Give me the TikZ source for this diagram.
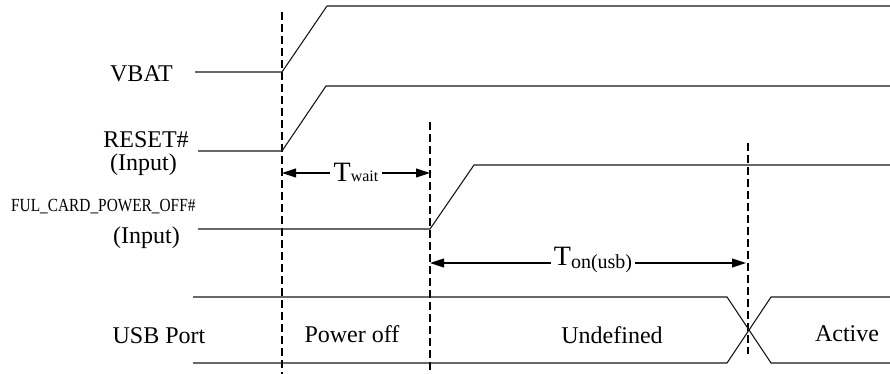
\documentclass[tikz,border=0pt]{standalone}
\usepackage{fontspec}
\setmainfont{Liberation Serif}
\usetikzlibrary{arrows.meta}
\begin{document}
\begin{tikzpicture}[x=1pt,y=-1pt,
  sig/.style={line width=1.1pt, black!90},
  guide/.style={line width=1.3pt, dash pattern=on 8pt off 4pt},
  dimline/.style={line width=1.1pt, -{Triangle[length=14pt,width=9pt]}},
  lbl/.style={font=\fontsize{24}{26}\selectfont, inner sep=0pt, anchor=base},
  small/.style={font=\fontsize{18.5}{20}\selectfont, inner sep=0pt, anchor=base west},
  tlbl/.style={fill=white, inner xsep=3pt, inner ysep=0pt, anchor=base}]
\useasboundingbox (0,0) rectangle (890,374);

% timing guides
\coordinate (g1t) at (282,12);  \coordinate (g1b) at (282,374);
\coordinate (g2t) at (430,122); \coordinate (g2b) at (430,374);
\coordinate (g3t) at (748,143); \coordinate (g3b) at (748,354);
\draw[guide] (g1t) -- (g1b);
\draw[guide] (g2t) -- (g2b);
\draw[guide] (g3t) -- (g3b);

% VBAT
\coordinate (v0) at (195,72);  \coordinate (v1) at (282,72);
\coordinate (v2) at (327,6);   \coordinate (v3) at (890,6);
\draw[sig] (v0) -- (v1) -- (v2) -- (v3);
\node[lbl] (vbat) at (141.5,82) {VBAT};

% RESET#
\coordinate (r0) at (198,151); \coordinate (r1) at (282,151);
\coordinate (r2) at (326,86);  \coordinate (r3) at (890,86);
\draw[sig] (r0) -- (r1) -- (r2) -- (r3);
\node[lbl] (reset) at (146,147) {RESET\#};
\node[lbl] (resetin) at (143.5,171) {(Input)};

% FUL_CARD_POWER_OFF#
\coordinate (f0) at (198,229); \coordinate (f1) at (430,229);
\coordinate (f2) at (474,165); \coordinate (f3) at (890,165);
\draw[sig] (f0) -- (f1) -- (f2) -- (f3);
\node[small] (ful) at (11,211) {\scalebox{0.83}[1]{FUL\_CARD\_POWER\_OFF\#}};
\node[lbl] (fulin) at (146.5,243) {(Input)};

% USB port bus
\coordinate (ut0) at (193,297); \coordinate (ut1) at (727,297);
\coordinate (ut2) at (771,363); \coordinate (ut3) at (890,363);
\coordinate (ub0) at (193,363); \coordinate (ub1) at (727,363);
\coordinate (ub2) at (771,297); \coordinate (ub3) at (890,297);
\draw[sig] (ut0) -- (ut1) -- (ut2) -- (ut3);
\draw[sig] (ub0) -- (ub1) -- (ub2) -- (ub3);
\node[lbl] (usb) at (159,343) {USB Port};
\node[lbl] (poff) at (352,342) {Power off};
\node[lbl] (undef) at (612,343) {Undefined};
\node[lbl] (act) at (847,341) {Active};

% T_wait
\coordinate (w0) at (282,173); \coordinate (w1) at (430,173);
\node[tlbl] (twait) at (356,182) {\fontsize{28}{29}\selectfont T\fontsize{16}{17}\selectfont wait};
\draw[dimline] (twait.west |- w0) -- (w0);
\draw[dimline] (twait.east |- w1) -- (w1);

% T_on(usb)
\coordinate (o0) at (430,263); \coordinate (o1) at (746,263);
\node[tlbl] (ton) at (593,265) {\fontsize{28}{29}\selectfont T\raisebox{-3pt}{\fontsize{20}{21}\selectfont on(usb)}};
\draw[dimline] (ton.west |- o0) -- (o0);
\draw[dimline] (ton.east |- o1) -- (o1);
\end{tikzpicture}
\end{document}
